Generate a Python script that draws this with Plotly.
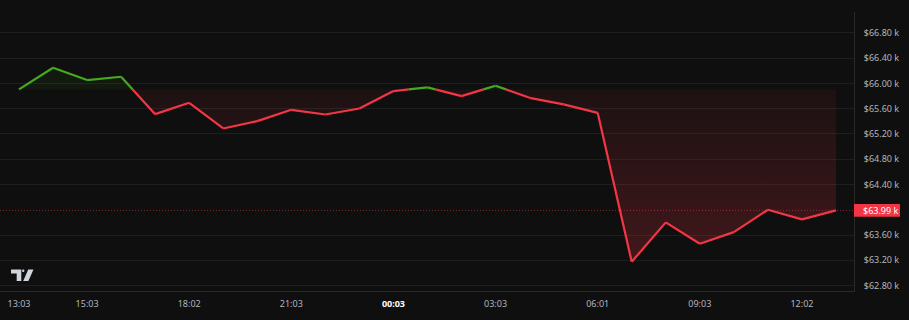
import plotly.graph_objects as go

# ---- data ----
times = ["13:03", "14:03", "15:03", "16:03", "17:03", "18:02", "19:03", "20:03", "21:03",
         "22:03", "23:03", "00:03", "01:03", "02:03", "03:03", "04:03", "05:03", "06:01",
         "07:03", "08:03", "09:03", "10:03", "11:03", "12:02", "13:03"]
prices_k = [65.906, 66.249, 66.054, 66.107, 65.514, 65.694, 65.287, 65.403, 65.583,
            65.509, 65.604, 65.880, 65.938, 65.800, 65.964, 65.773, 65.668, 65.535,
            63.175, 63.800, 63.462, 63.646, 64.000, 63.848, 63.990]
label_times = ["13:03", "15:03", "18:02", "21:03", "00:03", "03:03", "06:01", "09:03", "12:02"]
ytick_vals = [62.8, 63.2, 63.6, 64.4, 64.8, 65.2, 65.6, 66.0, 66.4, 66.8]
ytick_text = ["$%.2f k" % v for v in ytick_vals]
last_label = "$63.99 k"

GREEN = "#46a91f"
RED = "#f23645"
BG = "#0f0f0f"
GRID = "#1e1e1e"
TXT = "#b2b5be"

base = prices_k[0]
n = len(prices_k)
idx = list(range(n))

# densify with baseline crossings
dx, dy = [], []
for i in range(n):
    dx.append(idx[i]); dy.append(prices_k[i])
    if i < n - 1 and (prices_k[i] - base) * (prices_k[i + 1] - base) < 0:
        t = (base - prices_k[i]) / (prices_k[i + 1] - prices_k[i])
        dx.append(idx[i] + t); dy.append(base)

gx, gy, rx, ry = [], [], [], []
for j in range(len(dx) - 1):
    mid = (dy[j] + dy[j + 1]) / 2
    if mid >= base:
        gx += [dx[j], dx[j + 1], None]; gy += [dy[j], dy[j + 1], None]
    else:
        rx += [dx[j], dx[j + 1], None]; ry += [dy[j], dy[j + 1], None]

fig = go.Figure()
basey = [base] * len(dx)
fig.add_trace(go.Scatter(x=dx, y=basey, mode="lines", line=dict(width=0), hoverinfo="skip"))
fig.add_trace(go.Scatter(
    x=dx, y=[min(v, base) for v in dy], mode="lines", line=dict(width=0),
    fill="tonexty",
    fillgradient=dict(type="vertical",
                      colorscale=[[0, "rgba(242,54,69,0.22)"], [1, "rgba(242,54,69,0.06)"]],
                      start=min(prices_k), stop=base),
    hoverinfo="skip"))
fig.add_trace(go.Scatter(x=dx, y=basey, mode="lines", line=dict(width=0), hoverinfo="skip"))
fig.add_trace(go.Scatter(
    x=dx, y=[max(v, base) for v in dy], mode="lines", line=dict(width=0),
    fill="tonexty", fillcolor="rgba(70,169,31,0.07)", hoverinfo="skip"))
fig.add_trace(go.Scatter(x=rx, y=ry, mode="lines", line=dict(color=RED, width=2.2),
                         connectgaps=False, hoverinfo="skip"))
fig.add_trace(go.Scatter(x=gx, y=gy, mode="lines", line=dict(color=GREEN, width=2.2),
                         connectgaps=False, hoverinfo="skip"))

# tick labels on x
xt_vals = [times.index(t) for t in label_times]
xt_text = [('<span style="color:#ffffff"><b>%s</b></span>' % t) if t == "00:03" else t
           for t in label_times]

W, H = 909, 320
L, R, T, B = 0, 55, 12, 28.5
plot_w = W - L - R
plot_h = H - T - B

def px(x):
    return (x - L) / plot_w

def py(y):
    return (H - B - y) / plot_h

last = prices_k[-1]
shapes = [
    dict(type="line", xref="paper", yref="y", x0=0, x1=1, y0=last, y1=last,
         line=dict(color="rgba(242,54,69,0.55)", width=1, dash="1px,2px"), layer="below"),
    dict(type="rect", xref="paper", yref="y", x0=1.0, x1=px(900), y0=last - 6.3 / 63.25,
         y1=last + 6.3 / 63.25, fillcolor=RED, line=dict(width=0)),
]
# logo
LOGO = "#d1d4dc"
def path(pts):
    return "M " + " L ".join("%f,%f" % (px(a), py(b)) for a, b in pts) + " Z"
shapes += [
    dict(type="path", xref="paper", yref="paper", fillcolor=LOGO, line=dict(width=0),
         path=path([(11, 270), (21.3, 270), (21.3, 281.5), (16.7, 281.5), (16.7, 274), (11, 274)])),
    dict(type="circle", xref="paper", yref="paper", fillcolor=LOGO, line=dict(width=0),
         x0=px(22), x1=px(24.4), y0=py(272.4), y1=py(270)),
    dict(type="path", xref="paper", yref="paper", fillcolor=LOGO, line=dict(width=0),
         path=path([(28.2, 270), (33.5, 270), (28.4, 281.5), (23.2, 281.5)])),
]

fig.update_layout(
    width=W, height=H, margin=dict(l=L, r=R, t=T, b=B),
    paper_bgcolor=BG, plot_bgcolor=BG, showlegend=False, hovermode=False,
    font=dict(family="Noto Sans", size=9, color=TXT),
    shapes=shapes,
    annotations=[dict(x=1.0, xref="paper", y=last, yref="y", xanchor="left", yanchor="middle",
                      xshift=7, text=last_label, showarrow=False,
                      font=dict(color="#ffffff", size=9, family="Noto Sans"))],
    xaxis=dict(range=[-19 / 34.04, (854 - 19) / 34.04], tickvals=xt_vals, ticktext=xt_text,
               showgrid=False, zeroline=False, showline=True, linecolor="#2a2a2a", linewidth=1,
               ticks="", ticklabelstandoff=4, tickfont=dict(size=9, color=TXT)),
    yaxis=dict(side="right", range=[66.8 - 258.5 / 63.25, 66.8 + 21 / 63.25],
               tickvals=ytick_vals, ticktext=ytick_text, showgrid=True, gridcolor=GRID,
               zeroline=False, showline=True, linecolor="#2a2a2a", linewidth=1,
               ticks="", ticklabelstandoff=7, tickfont=dict(size=9, color=TXT)),
)

fig.write_html("out.html", config=dict(displayModeBar=False))
